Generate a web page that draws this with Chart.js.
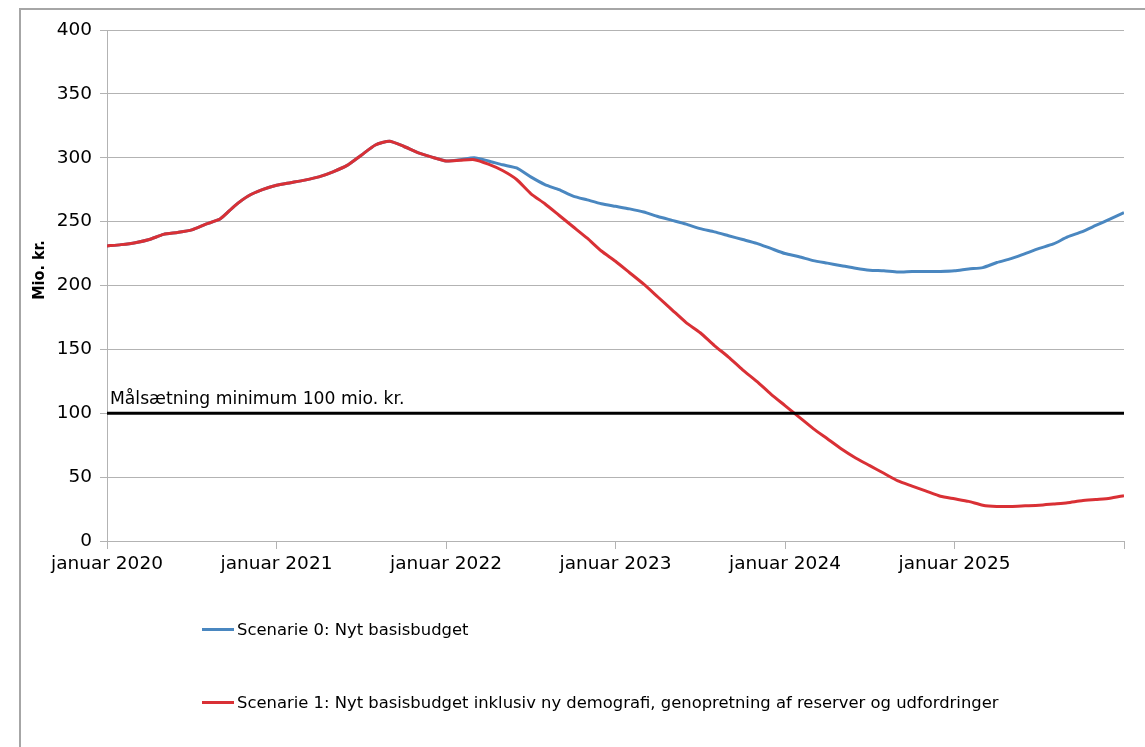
<!DOCTYPE html>
<html>
<head>
<meta charset="utf-8">
<script src="https://cdn.jsdelivr.net/npm/chart.js@4"></script>
<style>
  html, body { margin: 0; padding: 0; background: #fff; }
  #wrap { position: relative; width: 1145px; height: 747px; overflow: hidden; }
  #frame { position: absolute; left: 19px; top: 8px; width: 1200px; height: 800px;
           border-left: 2px solid #a6a6a6; border-top: 2px solid #a6a6a6; }
  canvas { position: absolute; left: 0; top: 0; }
  .leg { position: absolute; left: 202px; font: 16.4px "DejaVu Sans", sans-serif;
         color: #000; white-space: nowrap; }
  .leg span { display: inline-block; width: 32px; height: 3px; vertical-align: middle; margin-right: 3px; position: relative; top: -1px; }
</style>
</head>
<body>
<div id="wrap">
  <div id="frame"></div>
  <canvas id="chart" width="1145" height="747"></canvas>
  <div class="leg" style="top:620px"><span style="background:#4a87c0"></span>Scenarie 0: Nyt basisbudget</div>
  <div class="leg" style="top:693px"><span style="background:#d93035"></span>Scenarie 1: Nyt basisbudget inklusiv ny demografi, genopretning af reserver og udfordringer</div>
</div>
<script>
// month index 0 = januar 2020, 72 = januar 2026
const yearLabels = ['januar 2020', 'januar 2021', 'januar 2022', 'januar 2023', 'januar 2024', 'januar 2025', ''];

const scenario0 = [
  231, 232, 233.5, 236, 240, 241.5, 243.5, 248, 252, 262, 270, 275,
  278.5, 280.5, 282.5, 285, 289, 294, 302, 310, 313, 309, 304, 300.5,
  297.5, 298.5, 300, 297.5, 294.5, 292, 285, 279, 275, 270, 267, 264,
  262, 260, 257.5, 254, 251, 248, 244.5, 242, 239, 236, 233, 229,
  225, 222.5, 219.5, 217.5, 215.5, 213.5, 212, 211.5, 210.5, 211, 211, 211,
  211.5, 213, 214, 218, 221, 225, 229, 232.5, 238, 242, 247, 252,
  257
];

const scenario1 = [
  231, 232, 233.5, 236, 240, 241.5, 243.5, 248, 252, 262, 270, 275,
  278.5, 280.5, 282.5, 285, 289, 294, 302, 310, 313, 309, 304, 300.5,
  297.5, 298, 298.5, 295, 290, 283, 272, 264, 255, 246, 237, 227,
  219, 210, 201, 191, 181, 171, 163, 153, 144, 134, 125, 115,
  106, 97, 88, 80, 72, 65, 59, 53, 47, 43, 39, 35,
  33, 31, 28, 27, 27, 27.5, 28, 29, 30, 31.5, 32.5, 33.5,
  35.5
];

const targetValue = 100;
const targetLabel = 'Målsætning minimum 100 mio. kr.';
const yTitle = 'Mio. kr.';

const toPoints = arr => arr.map((v, i) => ({ x: i, y: v }));

// target label above the black line, and the y title (sits a bit above centre in the original)
const extraText = {
  id: 'extraText',
  afterDatasetsDraw(chart) {
    const { ctx, chartArea, scales } = chart;
    ctx.save();
    ctx.font = '17.2px "DejaVu Sans", sans-serif';
    ctx.fillStyle = '#000';
    ctx.textBaseline = 'alphabetic';
    ctx.fillText(targetLabel, chartArea.left + 3, scales.y.getPixelForValue(targetValue) - 9);

    ctx.translate(40, 270);
    ctx.rotate(-Math.PI / 2);
    ctx.font = 'bold 16px "DejaVu Sans Condensed", "DejaVu Sans", sans-serif';
    ctx.textAlign = 'center';
    ctx.textBaseline = 'middle';
    ctx.fillText(yTitle, 0, 0);
    ctx.restore();
  }
};

const tickFont = { family: '"DejaVu Sans", sans-serif', size: 18.5 };

new Chart(document.getElementById('chart'), {
  type: 'line',
  data: {
    datasets: [
      {
        label: 'Scenarie 0: Nyt basisbudget',
        data: toPoints(scenario0),
        borderColor: '#4a87c0',
        borderWidth: 3,
        pointRadius: 0,
        tension: 0.2,
        order: 2
      },
      {
        label: 'Scenarie 1: Nyt basisbudget inklusiv ny demografi, genopretning af reserver og udfordringer',
        data: toPoints(scenario1),
        borderColor: '#d93035',
        borderWidth: 3,
        pointRadius: 0,
        tension: 0.2,
        order: 1
      },
      {
        label: targetLabel,
        data: [{ x: 0, y: targetValue }, { x: 72, y: targetValue }],
        borderColor: '#000',
        borderWidth: 3,
        pointRadius: 0,
        order: 0
      }
    ]
  },
  options: {
    responsive: false,
    animation: false,
    layout: { padding: { left: 20, top: 30, right: 21, bottom: 161 } },
    scales: {
      x: {
        type: 'linear',
        min: 0,
        max: 72,
        afterFit: s => { s.height = 45; },
        border: { color: '#b3b3b3', width: 1 },
        grid: { drawOnChartArea: false, drawTicks: true, tickLength: 8, color: '#b3b3b3' },
        ticks: {
          stepSize: 12,
          autoSkip: false,
          maxRotation: 0,
          padding: 4,
          color: '#000',
          font: tickFont,
          callback: v => yearLabels[v / 12] ?? ''
        }
      },
      y: {
        min: 0,
        max: 400,
        afterFit: s => { s.width = 87; },
        border: { color: '#b3b3b3', width: 1 },
        grid: { color: '#b3b3b3', tickLength: 7 },
        ticks: { stepSize: 50, padding: 8, color: '#000', font: tickFont }
      }
    },
    plugins: {
      legend: { display: false },
      tooltip: { enabled: false }
    }
  },
  plugins: [extraText]
});
</script>
</body>
</html>
